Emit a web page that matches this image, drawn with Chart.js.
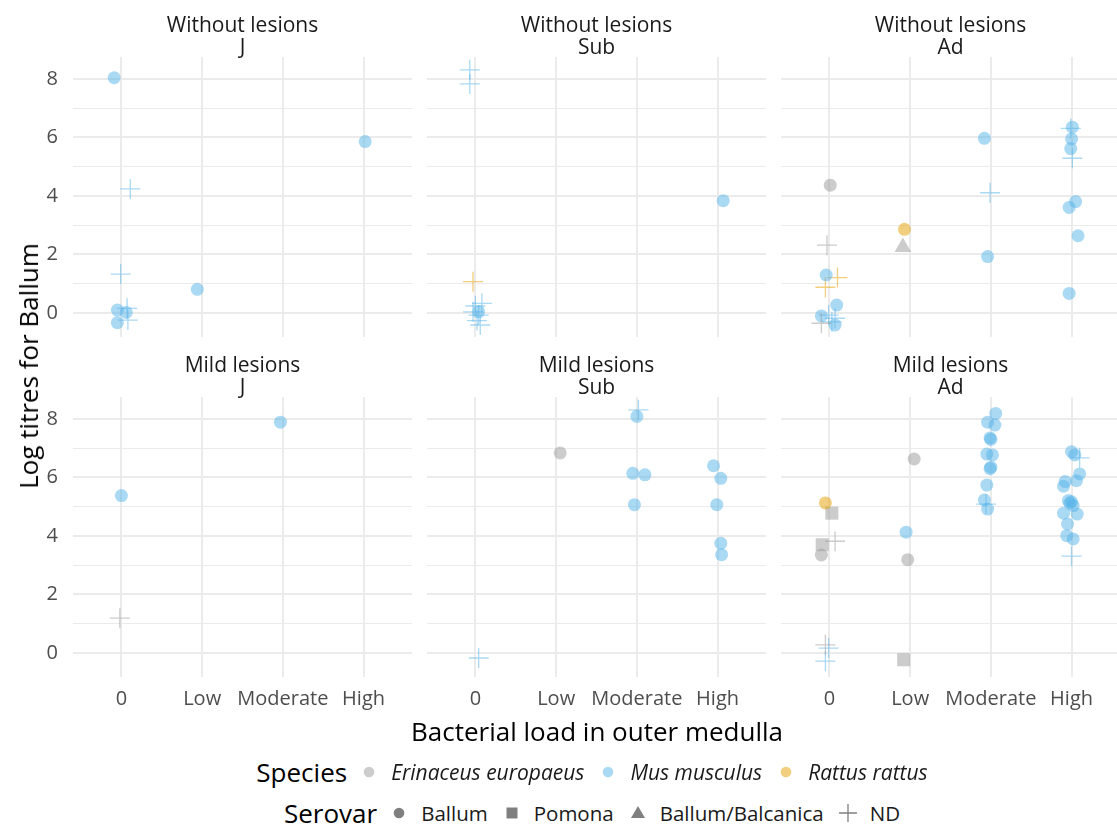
<!DOCTYPE html>
<html>
<head>
<meta charset="utf-8">
<script src="https://cdn.jsdelivr.net/npm/chart.js@4.4.1/dist/chart.umd.min.js"></script>
<style>
  body { margin: 0; background: #fff; overflow: hidden; font-family: "Open Sans", sans-serif; }
  #wrap { position: relative; width: 1117px; height: 827px; }
  canvas { position: absolute; }
  .strip { position: absolute; width: 339px; text-align: center; font-size: 21px; line-height: 22px; color: #1a1a1a; }
  .title { position: absolute; font-size: 26px; color: #000; white-space: nowrap; transform: translate(-50%, -50%); }
  .legend { position: absolute; left: 0; width: 1196px; display: flex; justify-content: center; align-items: center; height: 36px; }
  .legend .lt { font-size: 26px; margin-right: 10px; }
  .legend .it { display: flex; align-items: center; margin-right: 12px; color: #1a1a1a; }
  .legend .it svg { margin-right: 10px; }
</style>
</head>
<body>
<div id="wrap"></div>
<script>
// factor levels
const LOADS = ["0", "Low", "Moderate", "High"];
const LESIONS = ["Without lesions", "Mild lesions"];
const AGES = ["J", "Sub", "Ad"];
const SPECIES = ["Erinaceus europaeus", "Mus musculus", "Rattus rattus"];
const SEROVARS = ["Ballum", "Pomona", "Ballum/Balcanica", "ND"];

// one row per animal: [load position (jittered), log titre, species, serovar]
// species: E = Erinaceus, M = Mus, R = Rattus ; serovar: B, P, BB, ND
const without_J = [
  [0.91, 8.04, "M", "B"], [4.02, 5.86, "M", "B"], [1.11, 4.24, "M", "ND"],
  [0.99, 1.33, "M", "ND"], [1.94, 0.81, "M", "B"], [0.95, 0.10, "M", "B"],
  [1.06, 0.02, "M", "B"], [0.95, -0.33, "M", "B"], [1.07, 0.16, "M", "ND"],
  [1.08, -0.24, "M", "ND"]
];
const without_Sub = [
  [0.93, 8.31, "M", "ND"], [0.93, 7.83, "M", "ND"], [4.07, 3.84, "M", "B"],
  [0.97, 1.07, "R", "ND"], [1.00, 0.24, "M", "ND"], [1.08, 0.33, "M", "ND"],
  [0.97, 0.04, "M", "ND"], [1.04, -0.07, "M", "ND"], [1.02, -0.26, "M", "ND"],
  [1.06, -0.41, "M", "ND"], [1.04, 0.04, "M", "B"]
];
const without_Ad = [
  [1.01, 4.37, "E", "B"], [0.97, 2.32, "E", "ND"], [0.96, 1.30, "M", "B"],
  [1.10, 1.21, "R", "ND"], [0.95, 0.88, "R", "ND"], [1.09, 0.27, "M", "B"],
  [0.90, -0.10, "M", "B"], [0.99, -0.07, "M", "ND"], [1.07, -0.18, "M", "ND"],
  [1.03, -0.30, "M", "ND"], [1.07, -0.41, "M", "B"], [0.90, -0.35, "E", "ND"],
  [1.93, 2.86, "R", "B"], [1.91, 2.25, "E", "BB"],
  [2.92, 5.97, "M", "B"], [2.99, 4.11, "M", "ND"], [2.96, 1.93, "M", "B"],
  [3.99, 6.31, "M", "ND"], [4.01, 6.35, "M", "B"], [4.00, 5.95, "M", "B"],
  [3.99, 5.62, "M", "B"], [4.01, 5.29, "M", "ND"], [4.05, 3.81, "M", "B"],
  [3.97, 3.61, "M", "B"], [4.08, 2.64, "M", "B"], [3.97, 0.67, "M", "B"]
];
const mild_J = [
  [1.00, 5.38, "M", "B"], [2.97, 7.89, "M", "B"], [0.98, 1.19, "E", "ND"]
];
const mild_Sub = [
  [3.02, 8.31, "M", "ND"], [3.00, 8.09, "M", "B"], [2.05, 6.84, "E", "B"],
  [2.95, 6.14, "M", "B"], [3.10, 6.09, "M", "B"], [2.97, 5.07, "M", "B"],
  [3.95, 6.40, "M", "B"], [4.04, 5.97, "M", "B"], [3.99, 5.07, "M", "B"],
  [4.04, 3.75, "M", "B"], [4.05, 3.36, "M", "B"], [1.04, -0.17, "M", "ND"]
];
const mild_Ad = [
  [0.95, 5.13, "R", "B"], [1.03, 4.78, "E", "P"], [0.91, 3.70, "E", "P"],
  [1.07, 3.82, "E", "ND"], [0.90, 3.35, "E", "B"], [0.95, 0.28, "E", "ND"],
  [0.99, 0.17, "M", "ND"], [0.95, -0.28, "M", "ND"],
  [2.05, 6.63, "E", "B"], [1.95, 4.13, "M", "B"], [1.97, 3.19, "E", "B"],
  [1.92, -0.23, "E", "P"],
  [3.06, 8.19, "M", "B"], [2.96, 7.89, "M", "B"], [3.05, 7.79, "M", "B"],
  [2.99, 7.35, "M", "B"], [3.00, 7.30, "M", "B"], [2.95, 6.80, "M", "B"],
  [3.02, 6.77, "M", "B"], [3.00, 6.35, "M", "B"], [2.99, 6.30, "M", "B"],
  [2.95, 5.74, "M", "B"], [2.92, 5.23, "M", "B"], [2.94, 5.09, "M", "ND"],
  [2.96, 4.92, "M", "B"],
  [4.00, 6.88, "M", "B"], [4.04, 6.77, "M", "B"], [4.10, 6.67, "M", "ND"],
  [4.10, 6.12, "M", "B"], [4.06, 5.89, "M", "B"], [3.92, 5.86, "M", "B"],
  [3.90, 5.70, "M", "B"], [3.96, 5.21, "M", "B"], [4.00, 5.17, "M", "B"],
  [3.98, 5.12, "M", "B"], [4.02, 5.04, "M", "B"], [3.90, 4.78, "M", "B"],
  [4.07, 4.75, "M", "B"], [3.95, 4.41, "M", "B"], [3.94, 4.01, "M", "B"],
  [4.02, 3.90, "M", "B"], [4.00, 3.31, "M", "ND"]
];
const PANELS = [[without_J, without_Sub, without_Ad], [mild_J, mild_Sub, mild_Ad]];
const Y_TICKS = [0, 1, 2, 3, 4, 5, 6, 7, 8];

const COLOR = { E: "rgba(153,153,153,0.5)", M: "rgba(86,180,233,0.5)", R: "rgba(230,159,0,0.5)" };
const SHAPE = { B: "circle", P: "rect", BB: "triangle", ND: "cross" };
const SIZE = { B: 6.5, P: 9.2, BB: 9.6, ND: 10 };

const FONT = "'Open Sans', sans-serif";
const COL_LEFT = [73, 427, 781], ROW_TOP = [57, 397];
const PW = 339, PH = 280, YW = 50, XH = 40;

const wrap = document.getElementById("wrap");

function datasetsFor(points) {
  const groups = {};
  points.forEach(([x, y, sp, sv]) => {
    const k = sp + "|" + sv;
    (groups[k] = groups[k] || []).push({ x, y });
  });
  return Object.keys(groups).map(k => {
    const [sp, sv] = k.split("|");
    return {
      data: groups[k],
      pointStyle: SHAPE[sv],
      pointRadius: SIZE[sv],
      backgroundColor: COLOR[sp],
      borderColor: COLOR[sp],
      borderWidth: sv === "ND" ? 1.3 : 0,
      clip: false
    };
  });
}

function makePanel(r, c) {
  const cv = document.createElement("canvas");
  const w = PW + (c === 0 ? YW : 0), h = PH + (r === 1 ? XH : 0);
  cv.width = w; cv.height = h;
  cv.style.left = (COL_LEFT[c] - (c === 0 ? YW : 0)) + "px";
  cv.style.top = ROW_TOP[r] + "px";
  wrap.appendChild(cv);

  new Chart(cv, {
    type: "scatter",
    data: { datasets: datasetsFor(PANELS[r][c]) },
    options: {
      responsive: false, animation: false, events: [],
      layout: { padding: 0, autoPadding: false },
      plugins: { legend: { display: false }, tooltip: { enabled: false } },
      scales: {
        x: {
          type: "linear", min: 0.4, max: 4.6, bounds: "data",
          afterBuildTicks: s => { s.ticks = [1, 2, 3, 4].map(v => ({ value: v })); },
          afterFit: s => {
            s.height = r === 1 ? XH : 0;
            s.paddingLeft = 0; s.paddingRight = 0;
          },
          grid: { color: "#ebebeb", lineWidth: 2, drawTicks: false },
          border: { display: false },
          ticks: {
            display: r === 1, autoSkip: false, maxRotation: 0, padding: 10,
            color: "#4d4d4d", font: { family: FONT, size: 20 },
            callback: v => LOADS[v - 1]
          }
        },
        y: {
          type: "linear", min: -0.82, max: 8.75, bounds: "data",
          afterBuildTicks: s => { s.ticks = Y_TICKS.map(v => ({ value: v })); },
          afterFit: s => {
            s.width = c === 0 ? YW : 0;
            s.paddingTop = 0; s.paddingBottom = 0;
          },
          grid: {
            color: "#ebebeb", drawTicks: false,
            lineWidth: ctx => (ctx.tick && ctx.tick.value % 2 === 0) ? 2 : 1.1
          },
          border: { display: false },
          ticks: {
            display: c === 0, padding: 15,
            color: "#4d4d4d", font: { family: FONT, size: 20 },
            callback: v => (v % 2 === 0 ? String(v) : "")
          }
        }
      }
    }
  });

  const st = document.createElement("div");
  st.className = "strip";
  st.style.left = COL_LEFT[c] + "px";
  st.style.top = (ROW_TOP[r] - 44) + "px";
  st.innerHTML = LESIONS[r] + "<br>" + AGES[c];
  wrap.appendChild(st);
}

for (let r = 0; r < 2; r++) for (let c = 0; c < 3; c++) makePanel(r, c);

// axis titles
function addTitle(text, x, y, rotate) {
  const d = document.createElement("div");
  d.className = "title";
  d.textContent = text;
  d.style.left = x + "px";
  d.style.top = y + "px";
  if (rotate) d.style.transform = "translate(-50%, -50%) rotate(-90deg)";
  wrap.appendChild(d);
}
addTitle("Bacterial load in outer medulla", 597, 731, false);
addTitle("Log titres for Ballum", 28, 366, true);

// legend keys
function symbol(shape, fill) {
  const s = 24, m = s / 2;
  let body;
  if (shape === "circle") body = `<circle cx="${m}" cy="${m}" r="5.3" fill="${fill}"/>`;
  else if (shape === "rect") body = `<rect x="${m - 5.5}" y="${m - 5.5}" width="11" height="11" fill="${fill}"/>`;
  else if (shape === "triangle") body = `<polygon points="${m},${m - 7} ${m - 7},${m + 5} ${m + 7},${m + 5}" fill="${fill}"/>`;
  else body = `<path d="M${m - 9} ${m}H${m + 9}M${m} ${m - 9}V${m + 9}" stroke="${fill}" stroke-width="1.3"/>`;
  return `<svg width="${s}" height="${s}">${body}</svg>`;
}
function addLegend(title, items, top, size) {
  const d = document.createElement("div");
  d.className = "legend";
  d.style.top = top + "px";
  d.innerHTML = `<span class="lt">${title}</span>` + items.map(it =>
    `<span class="it" style="font-size:${size}px">${symbol(it.shape, it.fill)}<span style="font-style:${it.italic ? "italic" : "normal"}">${it.label}</span></span>`
  ).join("");
  wrap.appendChild(d);
}
addLegend("Species", SPECIES.map((s, i) => ({ label: s, shape: "circle", fill: COLOR["EMR"[i]], italic: true })), 754, 21);
addLegend("Serovar", SEROVARS.map((s, i) => ({ label: s, shape: ["circle", "rect", "triangle", "cross"][i], fill: "rgba(0,0,0,0.5)", italic: false })), 795, 20.5);
</script>
</body>
</html>
